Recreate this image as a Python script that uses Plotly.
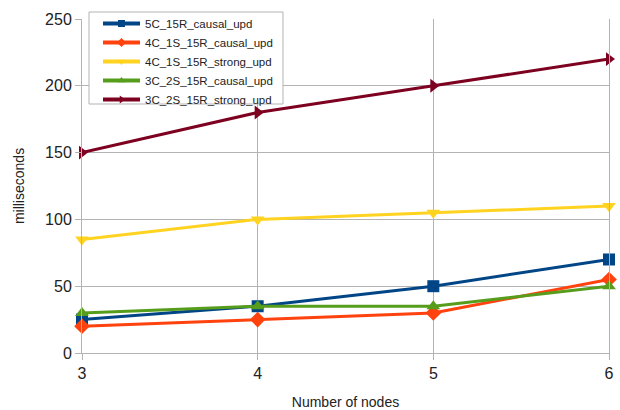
import plotly.graph_objects as go

nodes = [3, 4, 5, 6]
series_names = [
    "5C_15R_causal_upd",
    "4C_1S_15R_causal_upd",
    "4C_1S_15R_strong_upd",
    "3C_2S_15R_causal_upd",
    "3C_2S_15R_strong_upd",
]
c5_15r_causal = [25, 35, 50, 70]
c4_1s_causal = [20, 25, 30, 55]
c4_1s_strong = [85, 100, 105, 110]
c3_2s_causal = [30, 35, 35, 50]
c3_2s_strong = [150, 180, 200, 220]

values = [c5_15r_causal, c4_1s_causal, c4_1s_strong, c3_2s_causal, c3_2s_strong]
colors = ["#004586", "#ff420e", "#ffd320", "#579d1c", "#7e0021"]
symbols = ["square", "diamond", "triangle-down", "triangle-up", "triangle-right"]

fig = go.Figure()
for name, ys, col, sym in zip(series_names, values, colors, symbols):
    fig.add_trace(go.Scatter(
        x=nodes, y=ys, name=name, mode="lines+markers",
        line=dict(color=col, width=3),
        marker=dict(symbol=sym, size=12, color=col),
        cliponaxis=False, showlegend=False,
    ))

# legend keys: thicker line with a small marker
for name, col, sym in zip(series_names, colors, symbols):
    fig.add_trace(go.Scatter(
        x=[None], y=[None], name=name, mode="lines+markers",
        line=dict(color=col, width=4),
        marker=dict(symbol=sym, size=7, color=col),
        showlegend=True,
    ))

PLOT_L, PLOT_R, PLOT_T, PLOT_B = 82, 11, 19, 57
plot_w = 620 - PLOT_L - PLOT_R
plot_h = 410 - PLOT_T - PLOT_B


def px_x(px):
    return (px - PLOT_L) / plot_w


def px_y(py):
    return (410 - PLOT_B - py) / plot_h


# framed white box behind the legend entries
fig.add_shape(
    type="rect", xref="paper", yref="paper",
    x0=px_x(89), x1=px_x(283), y0=px_y(104), y1=px_y(12),
    line=dict(color="#b3b3b3", width=1), fillcolor="white", layer="above",
)

fig.update_layout(
    width=620, height=410,
    margin=dict(l=PLOT_L, r=PLOT_R, t=PLOT_T, b=PLOT_B, autoexpand=False),
    paper_bgcolor="white", plot_bgcolor="white",
    font=dict(family="Liberation Sans, Arial, sans-serif", size=16, color="#222222"),
    showlegend=True,
    legend=dict(
        x=px_x(98), y=px_y(9),
        xanchor="left", yanchor="top",
        bgcolor="rgba(0,0,0,0)", borderwidth=0,
        font=dict(size=11.5, color="#222222"),
        tracegroupgap=0, itemwidth=37,
    ),
    xaxis=dict(
        range=[3, 6], tickvals=nodes, ticktext=[str(n) for n in nodes],
        showgrid=True, gridcolor="#b3b3b3", gridwidth=1,
        showline=True, linecolor="#b3b3b3",
        ticks="outside", ticklen=6, tickcolor="#b3b3b3",
        zeroline=False, automargin=False,
        title=dict(text="Number of nodes", font=dict(size=14), standoff=20),
    ),
    yaxis=dict(
        range=[0, 250], dtick=50,
        showgrid=True, gridcolor="#b3b3b3", gridwidth=1,
        showline=True, linecolor="#b3b3b3", mirror=True,
        ticks="outside", ticklen=6, tickcolor="#b3b3b3",
        zeroline=False, automargin=False,
        title=dict(text="milliseconds", font=dict(size=14), standoff=17),
    ),
)

fig.write_html("out.html")
